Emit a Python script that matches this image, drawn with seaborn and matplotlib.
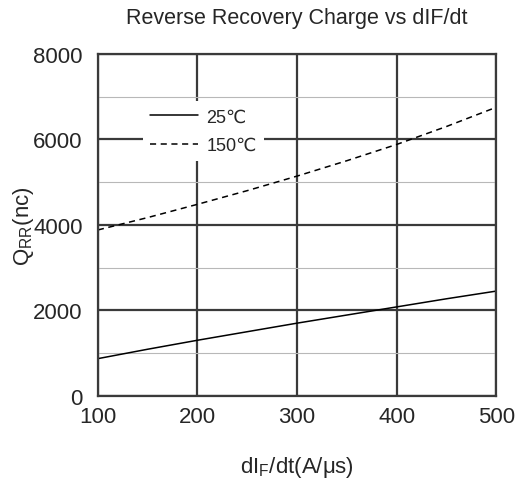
import pandas as pd
import seaborn as sns
import matplotlib.pyplot as plt
from matplotlib.ticker import MultipleLocator

# dIF/dt (A/us) and Qrr (nC)
didt = [100, 150, 200, 250, 300, 350, 400, 450, 500]
qrr_25 = [870, 1090, 1300, 1500, 1700, 1890, 2080, 2270, 2450]
qrr_150 = [3880, 4170, 4480, 4800, 5140, 5500, 5880, 6300, 6750]

df = pd.DataFrame({
    'didt': didt * 2,
    'qrr': qrr_25 + qrr_150,
    'temp': ['25℃'] * len(didt) + ['150℃'] * len(didt),
})

sns.set_style('white')
plt.rcParams['font.family'] = ['Liberation Sans', 'DejaVu Sans']

fig = plt.figure(figsize=(5.18, 4.81), dpi=100)
ax = fig.add_axes([0.189, 0.175, 0.769, 0.711])

sns.lineplot(data=df, x='didt', y='qrr', hue='temp', style='temp',
             palette=['black', 'black'], dashes={'25℃': '', '150℃': (4, 3)},
             linewidth=1.1, ax=ax)

ax.set_xlim(100, 500)
ax.set_ylim(0, 8000)
ax.xaxis.set_major_locator(MultipleLocator(100))
ax.yaxis.set_major_locator(MultipleLocator(2000))
ax.yaxis.set_minor_locator(MultipleLocator(1000))
ax.grid(which='major', color='#3a3a3a', linewidth=1.6)
ax.grid(which='minor', axis='y', color='#b8b8b8', linewidth=0.8)
ax.set_axisbelow(True)
for s in ax.spines.values():
    s.set_color('#3a3a3a')
    s.set_linewidth(1.6)

ax.tick_params(labelsize=16, length=0)
ax.tick_params(axis='x', pad=7)
ax.tick_params(axis='y', pad=11)
ax.set_title('Reverse Recovery Charge vs dIF/dt', fontsize=15.5, pad=22)
ax.set_xlabel('dI$_\\mathregular{F}$/dt(A/μs)', fontsize=16, labelpad=20)
ax.set_ylabel('Q$_\\mathregular{RR}$(nc)', fontsize=16, labelpad=-2)

leg = ax.legend(title=None, loc='upper left', bbox_to_anchor=(0.112, 0.862),
                fontsize=13, frameon=True, fancybox=False, handlelength=2.7,
                borderpad=0.4, labelspacing=0.65, handletextpad=0.45,
                borderaxespad=0)
leg.get_frame().set_facecolor('white')
leg.get_frame().set_edgecolor('none')
leg.get_frame().set_alpha(1)

fig.savefig('out.png', dpi=100)
